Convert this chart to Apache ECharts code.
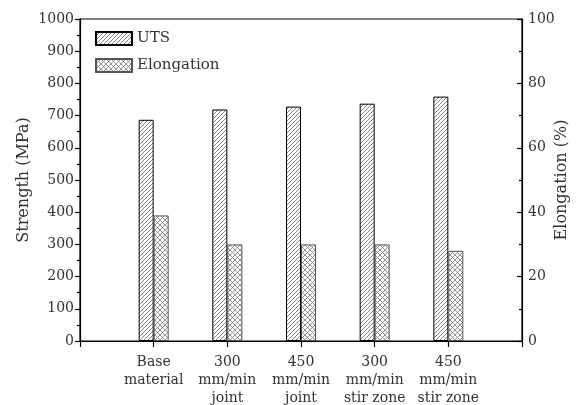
<!DOCTYPE html>
<html>
<head>
<meta charset="utf-8">
<script src="https://cdn.jsdelivr.net/npm/echarts@6/dist/echarts.min.js"></script>
<style>html,body{margin:0;padding:0;background:#fff;}#c{width:577px;height:405px;}</style>
</head>
<body>
<div id="c"></div>
<script>
const categories = ['', 'Base\nmaterial', '300\nmm/min\njoint', '450\nmm/min\njoint', '300\nmm/min\nstir zone', '450\nmm/min\nstir zone', ''];
const utsValues = [null, 687, 719, 728, 737, 759, null];
const elongationValues = [null, 39, 30, 30, 30, 28, null];
const leftTicks = [0, 1000, 100];
const rightTicks = [0, 100, 20];

function hatch(size, cross, color) {
  const c = document.createElement('canvas');
  c.width = size; c.height = size;
  const g = c.getContext('2d');
  g.fillStyle = '#fff'; g.fillRect(0, 0, size, size);
  g.strokeStyle = color; g.lineWidth = 0.8;
  g.beginPath();
  for (let k = -1; k <= 1; k++) {
    g.moveTo(k * size, size); g.lineTo(k * size + size, 0);
    if (cross) { g.moveTo(k * size, 0); g.lineTo(k * size + size, size); }
  }
  g.stroke();
  return c;
}
const FONT = 'DejaVu Serif';
const chart = echarts.init(document.getElementById('c'), null, {renderer: 'canvas'});
chart.setOption({
  animation: false,
  textStyle: {fontFamily: FONT},
  grid: {left: 80, right: 55, top: 19, bottom: 64, containLabel: false, outerBoundsMode: 'none',
         show: true, borderColor: '#000', borderWidth: 1.2},
  legend: {
    orient: 'vertical', left: 90, top: 26, itemWidth: 36, itemHeight: 13, itemGap: 12,
    icon: 'rect',
    textStyle: {fontFamily: FONT, fontSize: 15, color: '#333'},
    data: ['UTS', 'Elongation']
  },
  xAxis: {
    type: 'category', data: categories, boundaryGap: false,
    axisLine: {lineStyle: {color: '#000', width: 1.2}},
    axisTick: {show: true, interval: 0, length: 6, lineStyle: {color: '#000', width: 1.2}},
    axisLabel: {interval: 0, fontFamily: FONT, fontSize: 14, color: '#333', lineHeight: 18, margin: 12}
  },
  yAxis: [{
    type: 'value', min: leftTicks[0], max: leftTicks[1], interval: leftTicks[2],
    name: 'Strength (MPa)', nameLocation: 'middle', nameGap: 48, nameMoveOverlap: false,
    nameTextStyle: {fontFamily: FONT, fontSize: 16, color: '#333'},
    axisLine: {show: true, lineStyle: {color: '#000', width: 1.2}},
    axisTick: {show: true, inside: false, length: 5, lineStyle: {color: '#000', width: 1.2}},
    minorTick: {show: true, splitNumber: 2, length: 3, lineStyle: {color: '#000', width: 1.2}},
    splitLine: {show: false},
    axisLabel: {fontFamily: FONT, fontSize: 14, color: '#333', margin: 6, formatter: v => String(v)}
  }, {
    type: 'value', min: rightTicks[0], max: rightTicks[1], interval: rightTicks[2], position: 'right',
    name: 'Elongation (%)', nameLocation: 'middle', nameGap: 32, nameRotate: 90, nameMoveOverlap: false,
    nameTextStyle: {fontFamily: FONT, fontSize: 16, color: '#333'},
    axisLine: {show: true, lineStyle: {color: '#000', width: 1.2}},
    axisTick: {show: true, inside: true, length: 5, lineStyle: {color: '#000', width: 1.2}},
    minorTick: {show: true, splitNumber: 2, length: 3, lineStyle: {color: '#000', width: 1.2}},
    splitLine: {show: false},
    axisLabel: {fontFamily: FONT, fontSize: 14, color: '#333', margin: 6, formatter: v => String(v)}
  }],
  series: [{
    name: 'UTS', type: 'bar', yAxisIndex: 0, data: utsValues, barWidth: 15, barGap: '0%',
    itemStyle: {color: {image: hatch(4, false, '#666'), repeat: 'repeat'}, borderColor: '#000', borderWidth: 1}
  }, {
    name: 'Elongation', type: 'bar', yAxisIndex: 1, data: elongationValues, barWidth: 15, barGap: '0%',
    itemStyle: {color: {image: hatch(5, true, '#777'), repeat: 'repeat'}, borderColor: '#555', borderWidth: 1}
  }]
});
</script>
</body>
</html>
